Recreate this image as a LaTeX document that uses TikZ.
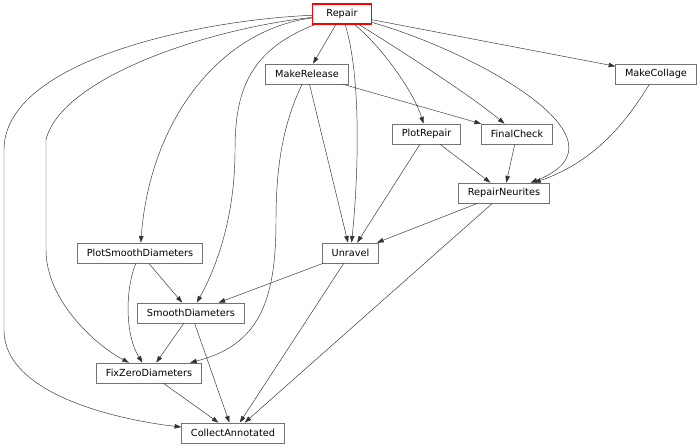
\documentclass[tikz,border=0pt]{standalone}
\usepackage{fontspec}
\setmainfont{DejaVu Sans}
\usetikzlibrary{arrows.meta}

\begin{document}
\begin{tikzpicture}[x=0.75pt,y=-0.75pt,
  task/.style={draw=black!55,line width=0.55pt,fill=white,minimum height=15pt,inner xsep=7pt,inner ysep=0pt,font=\fontsize{7.3}{8}\selectfont},
  root/.style={task,draw=red,line width=1.2pt,minimum width=44pt},
  dep/.style={->,>={Triangle[length=5pt,width=3.4pt]},line width=0.35pt,black!80}]
\useasboundingbox (0,0) rectangle (700,447);
%tasks
\node[root] (Repair) at (342,14) {Repair};
\node[task] (MakeRelease) at (307,74) {MakeRelease};
\node[task] (MakeCollage) at (656,74) {MakeCollage};
\node[task] (PlotRepair) at (426.5,134) {PlotRepair};
\node[task] (FinalCheck) at (517,134) {FinalCheck};
\node[task] (RepairNeurites) at (504,193) {RepairNeurites};
\node[task] (PlotSmoothDiameters) at (140,253) {PlotSmoothDiameters};
\node[task] (Unravel) at (350.5,253) {Unravel};
\node[task] (SmoothDiameters) at (191,313) {SmoothDiameters};
\node[task] (FixZeroDiameters) at (149,373) {FixZeroDiameters};
\node[task] (CollectAnnotated) at (233,433) {CollectAnnotated};
%from Repair
\draw[dep](Repair)--(MakeRelease);
\draw[dep](Repair)--(MakeCollage);
\draw[dep](Repair)..controls(385,50)and(415,95)..(PlotRepair);
\draw[dep](Repair)..controls(400,50)and(470,95)..(FinalCheck);
\draw[dep](Repair)..controls(470,50)and(640,140)..(RepairNeurites);
\draw[dep](Repair)..controls(362,80)and(358,180)..(Unravel);
\draw[dep](Repair)..controls(250,50)and(235,90)..(235,150)..controls(235,220)and(215,270)..(SmoothDiameters);
\draw[dep](Repair)..controls(220,30)and(150,120)..(PlotSmoothDiameters);
\draw[dep](Repair)..controls(200,30)and(60,80)..(46,140)--(46,250)..controls(46,300)and(95,345)..(FixZeroDiameters);
\draw[dep](Repair)..controls(200,20)and(4,60)..(4,150)--(4,330)..controls(4,395)and(120,420)..(CollectAnnotated);
%middle
\draw[dep](MakeRelease)--(FinalCheck);
\draw[dep](MakeRelease)--(Unravel);
\draw[dep](MakeRelease)..controls(285,120)and(276,160)..(276,220)..controls(276,300)and(260,345)..(FixZeroDiameters);
\draw[dep](MakeCollage)..controls(630,115)and(600,160)..(RepairNeurites);
\draw[dep](PlotRepair)--(RepairNeurites);
\draw[dep](PlotRepair)--(Unravel);
\draw[dep](FinalCheck)--(RepairNeurites);
\draw[dep](RepairNeurites)--(Unravel);
\draw[dep](RepairNeurites)--(CollectAnnotated);
%bottom
\draw[dep](PlotSmoothDiameters)--(SmoothDiameters);
\draw[dep](PlotSmoothDiameters)..controls(125,290)and(125,335)..(FixZeroDiameters);
\draw[dep](Unravel)--(SmoothDiameters);
\draw[dep](Unravel)--(CollectAnnotated);
\draw[dep](SmoothDiameters)--(FixZeroDiameters);
\draw[dep](SmoothDiameters)--(CollectAnnotated);
\draw[dep](FixZeroDiameters)--(CollectAnnotated);
\end{tikzpicture}
\end{document}
